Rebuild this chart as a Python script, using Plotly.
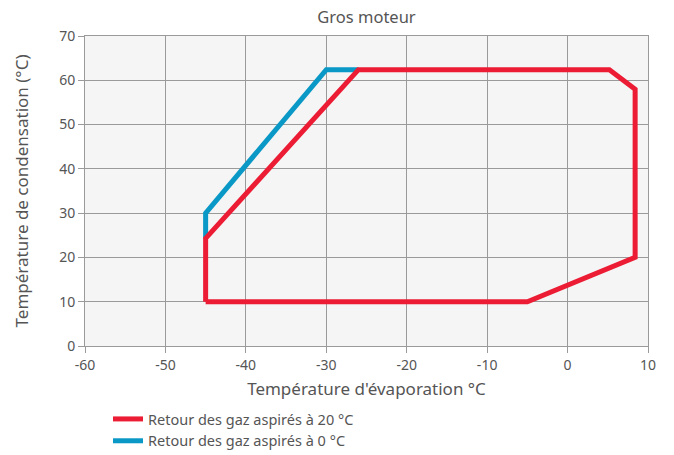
import plotly.graph_objects as go

# Envelope data (evaporation temp °C, condensation temp °C)
red_name = "Retour des gaz aspirés à 20 °C"
red_x = [-45, -5, 8.4, 8.4, 5.2, -26, -45, -45]
red_y = [10, 10, 20, 58, 62.4, 62.4, 24.3, 10]

blue_name = "Retour des gaz aspirés à 0 °C"
blue_x = [-45, -45, -30, -26]
blue_y = [24.3, 30, 62.4, 62.4]

x_ticks = [-60, -50, -40, -30, -20, -10, 0, 10]
y_ticks = [0, 10, 20, 30, 40, 50, 60, 70]

RED = "#ec1c34"
BLUE = "#0a98c6"
TXT = "#555555"
GRID = "#9a9a9a"
FONT = "Noto Sans"

L, R, T, B = 85, 26, 36, 109
W, H = 674, 455
PH = H - T - B

fig = go.Figure()
fig.add_trace(go.Scatter(x=blue_x, y=blue_y, mode="lines", name=blue_name,
                         line=dict(color=BLUE, width=5), legendrank=2))
fig.add_trace(go.Scatter(x=red_x, y=red_y, mode="lines", name=red_name,
                         line=dict(color=RED, width=5), legendrank=1))

fig.update_layout(
    width=W, height=H,
    margin=dict(l=L, r=R, t=T, b=B, autoexpand=False),
    paper_bgcolor="white",
    plot_bgcolor="#f5f5f5",
    font=dict(family=FONT, color=TXT, size=13),
    title=dict(text="Gros moteur", x=(85 + 648) / 2 / W, xanchor="center",
               y=1 - 17 / H, yanchor="middle", font=dict(size=16.5, color=TXT)),
    showlegend=True,
    legend=dict(orientation="v", x=(108 - L) / (W - L - R), xanchor="left",
                y=-57 / PH, yanchor="top", bgcolor="rgba(0,0,0,0)",
                font=dict(size=14.5, color=TXT), traceorder="normal",
                itemwidth=30, tracegroupgap=0),
)
fig.update_xaxes(range=[-60, 10], tickvals=x_ticks, ticktext=[str(v) for v in x_ticks],
                 showgrid=True, gridcolor=GRID, gridwidth=1, automargin=False,
                 zeroline=False, showline=True, linecolor=GRID, mirror=True,
                 ticks="outside", ticklen=6, tickcolor=GRID,
                 tickfont=dict(size=14, color=TXT),
                 title=dict(text="Température d'évaporation °C", font=dict(size=17, color=TXT), standoff=10))
fig.update_yaxes(range=[0, 70], tickvals=y_ticks,
                 showgrid=True, gridcolor=GRID, gridwidth=1, automargin=False,
                 zeroline=False, showline=True, linecolor=GRID, mirror=True,
                 ticks="outside", ticklen=6, tickcolor=GRID,
                 tickfont=dict(size=14, color=TXT),
                 title=dict(text="Température de condensation (°C)", font=dict(size=17, color=TXT), standoff=26))

fig.write_html("out.html", config={"displayModeBar": False},
               post_script="document.body.style.margin='0';")
